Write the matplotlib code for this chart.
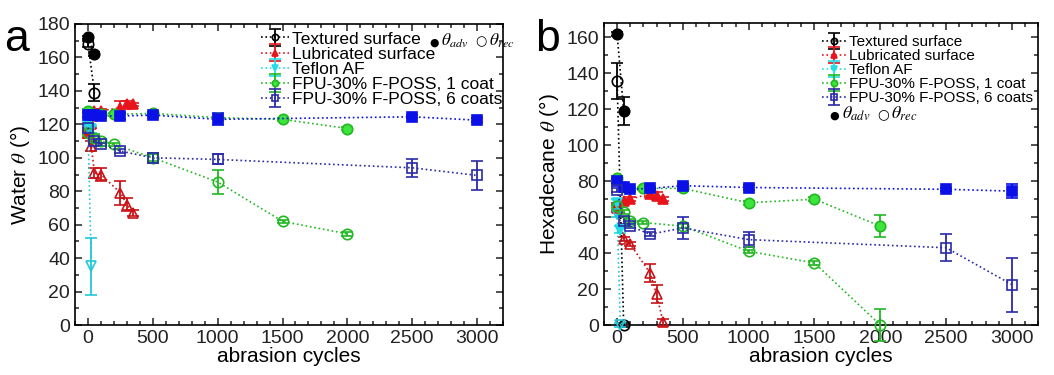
import matplotlib
matplotlib.use('Agg')
import matplotlib.pyplot as plt
from matplotlib.ticker import MultipleLocator
from matplotlib.offsetbox import TextArea, HPacker, AnchoredOffsetbox

plt.rcParams['font.family'] = ['Liberation Sans', 'DejaVu Sans']
plt.rcParams['mathtext.fontset'] = 'stix'

# ---- panel a: water ----
tex_a_x = [0, 50]
tex_a_adv = [172, 162]
tex_a_adv_err = [1, 1]
tex_a_rec = [168, 139]
tex_a_rec_err = [2, 5]

lub_a_x = [0, 25, 50, 100, 250, 300, 350]
lub_a_adv = [115, 120, 128, 128, 130, 132, 132]
lub_a_adv_err = [3, 2, 1, 1, 4, 2, 1]
lub_a_rec = [117, 107, 91, 90, 79, 72, 67]
lub_a_rec_err = [3, 3, 3, 4, 7, 4, 2]

tef_a_x = [0, 25]
tef_a_adv = [121, 117]
tef_a_adv_err = [1, 2]
tef_a_rec = [118, 35]
tef_a_rec_err = [2, 17]

g1_a_x_adv = [0, 50, 100, 200, 500, 1000, 1500, 2000]
g1_a_adv = [128, 126, 126, 126, 126.5, 124, 123, 117.5]
g1_a_adv_err = [1, 1, 1, 1, 1, 1, 1, 1]
g1_a_x_rec = [0, 50, 100, 200, 500, 1000, 1500, 2000]
g1_a_rec = [115, 112, 110, 108, 100, 85.5, 62, 54.5]
g1_a_rec_err = [2, 2, 1, 1, 2, 7, 1, 1]

b6_a_x_adv = [0, 25, 50, 100, 250, 500, 1000, 2500, 3000]
b6_a_adv = [125.5, 125.5, 125.5, 125, 125, 125.5, 123, 124.5, 122.5]
b6_a_adv_err = [1, 1, 1, 1, 2, 1, 3.5, 1, 1]
b6_a_x_rec = [0, 50, 100, 250, 500, 1000, 2500, 3000]
b6_a_rec = [118, 110, 108, 104, 100, 99, 94, 89.5]
b6_a_rec_err = [2, 1, 1, 1, 3, 3, 5.5, 8.5]

# ---- panel b: hexadecane ----
tex_b_x = [0, 50]
tex_b_adv = [162, 119]
tex_b_adv_err = [1, 8]
tex_b_rec = [136, 0]
tex_b_rec_err = [10, 1]

lub_b_x = [0, 50, 100, 250, 300, 350]
lub_b_adv = [65, 69, 70, 73, 72, 70]
lub_b_adv_err = [2, 1, 1, 2, 2, 1]
lub_b_rec = [66, 48, 45, 29, 17, 1.5]
lub_b_rec_err = [2, 1, 1, 5, 5, 2]

tef_b_x = [0, 25]
tef_b_adv = [68, 53]
tef_b_adv_err = [2, 2]
tef_b_rec = [62, 0]
tef_b_rec_err = [2, 1]

g1_b_x_adv = [0, 50, 200, 500, 1000, 1500, 2000]
g1_b_adv = [82, 77, 76, 76, 68, 70, 55]
g1_b_adv_err = [1, 1, 1, 1, 1, 1, 6]
g1_b_x_rec = [0, 50, 100, 200, 500, 1000, 1500, 2000]
g1_b_rec = [66, 63, 58, 57, 55, 41, 34.5, 0]
g1_b_rec_err = [1, 1, 1, 1, 1, 1, 1, 9]

b6_b_x = [0, 50, 100, 250, 500, 1000, 2500, 3000]
b6_b_adv = [80, 77, 75.5, 76, 77.5, 76.5, 75.5, 74.5]
b6_b_adv_err = [1, 1, 1, 1, 1, 1.5, 1, 4]
b6_b_rec = [75, 58, 55, 50.5, 54, 47.5, 43, 22.5]
b6_b_rec_err = [1, 2, 1, 1, 6, 4, 7.5, 15]

labels = ['Textured surface', 'Lubricated surface', 'Teflon AF',
          'FPU-30% F-POSS, 1 coat', 'FPU-30% F-POSS, 6 coats']

# colour, marker, filled edge, open edge
styles = [('black', 'o', 'black', 'black'),
          ('#e8141c', '^', '#e8141c', '#c81418'),
          ('#22dde6', 'v', '#22dde6', '#22c8d8'),
          ('#3ce43c', 'o', '#22b822', '#22b822'),
          ('#0a10e6', 's', '#0a10e6', '#2a2aa8')]


def draw(ax, x, y, err, st, filled):
    col, mk, ecf, eco = st
    ec = ecf if filled else eco
    h = ax.errorbar(x, y, yerr=err, fmt=mk, linestyle=':', color=ec,
                    lw=1.2, ms=7.5 if mk != 's' else 6.5,
                    mfc=col if filled else 'none', mec=ec, mew=1.2,
                    ecolor=ec, elinewidth=1.3, capsize=4, capthick=1.3,
                    clip_on=False, zorder=3)
    return h


def adv_rec_key(ax, x, y, fs):
    # "● θadv ○ θrec" key, built from pieces so the dots get their own size
    dot = dict(fontsize=fs * 0.62, family=['DejaVu Sans'])
    ring = dict(fontsize=fs * 0.75, family=['DejaVu Sans'])
    parts = [TextArea('●', textprops=dot),
             TextArea(r'$\theta_{adv}$', textprops=dict(fontsize=fs)),
             TextArea(' ', textprops=dict(fontsize=fs * 0.5)),
             TextArea('○', textprops=ring),
             TextArea(r'$\theta_{rec}$', textprops=dict(fontsize=fs))]
    box = HPacker(children=parts, align='baseline', pad=0, sep=1.5)
    anc = AnchoredOffsetbox(loc='center left', child=box, pad=0, frameon=False,
                            bbox_to_anchor=(x, y), bbox_transform=ax.transAxes,
                            borderpad=0)
    ax.add_artist(anc)


def style_axes(ax, ytop):
    ax.set_xlim(-100, 3200)
    ax.set_ylim(0, ytop)
    ax.xaxis.set_major_locator(MultipleLocator(500))
    ax.xaxis.set_minor_locator(MultipleLocator(100))
    ax.yaxis.set_major_locator(MultipleLocator(20))
    ax.yaxis.set_minor_locator(MultipleLocator(10))
    ax.tick_params(which='both', direction='in', top=True, right=True,
                   labelsize=14, width=1.1, colors='#222222')
    ax.tick_params(which='major', length=5)
    ax.tick_params(which='minor', length=3)
    for s in ax.spines.values():
        s.set_linewidth(1.2)
    ax.set_xlabel('abrasion cycles', fontsize=15, labelpad=0)


fig = plt.figure(figsize=(10.54, 3.75), dpi=100)
axa = fig.add_axes([0.0712, 0.1333, 0.406, 0.8027])
axb = fig.add_axes([0.573, 0.1333, 0.412, 0.8053])

# panel a
ha = []
ha.append(draw(axa, tex_a_x, tex_a_rec, tex_a_rec_err, styles[0], False))
draw(axa, tex_a_x, tex_a_adv, tex_a_adv_err, styles[0], True)
ha.append(draw(axa, lub_a_x, lub_a_adv, lub_a_adv_err, styles[1], True))
draw(axa, lub_a_x, lub_a_rec, lub_a_rec_err, styles[1], False)
ha.append(draw(axa, tef_a_x, tef_a_adv, tef_a_adv_err, styles[2], True))
draw(axa, tef_a_x, tef_a_rec, tef_a_rec_err, styles[2], False)
ha.append(draw(axa, g1_a_x_adv, g1_a_adv, g1_a_adv_err, styles[3], True))
draw(axa, g1_a_x_rec, g1_a_rec, g1_a_rec_err, styles[3], False)
draw(axa, b6_a_x_adv, b6_a_adv, b6_a_adv_err, styles[4], True)
ha.append(draw(axa, b6_a_x_rec, b6_a_rec, b6_a_rec_err, styles[4], False))
style_axes(axa, 180)
axa.set_ylabel(r'Water $\theta$ (°)', fontsize=15, labelpad=4)
axa.legend(ha, labels, loc='upper left', bbox_to_anchor=(0.41, 1.01),
           frameon=False, fontsize=12.5, handlelength=1.6, handletextpad=0.2,
           labelspacing=0.0, borderaxespad=0.2, markerscale=0.6)
adv_rec_key(axa, 0.828, 0.945, 12.5)

# panel b
hb = []
hb.append(draw(axb, tex_b_x, tex_b_rec, tex_b_rec_err, styles[0], False))
draw(axb, tex_b_x, tex_b_adv, tex_b_adv_err, styles[0], True)
hb.append(draw(axb, lub_b_x, lub_b_adv, lub_b_adv_err, styles[1], True))
draw(axb, lub_b_x, lub_b_rec, lub_b_rec_err, styles[1], False)
hb.append(draw(axb, tef_b_x, tef_b_adv, tef_b_adv_err, styles[2], True))
draw(axb, tef_b_x, tef_b_rec, tef_b_rec_err, styles[2], False)
hb.append(draw(axb, g1_b_x_adv, g1_b_adv, g1_b_adv_err, styles[3], True))
draw(axb, g1_b_x_rec, g1_b_rec, g1_b_rec_err, styles[3], False)
draw(axb, b6_b_x, b6_b_adv, b6_b_adv_err, styles[4], True)
hb.append(draw(axb, b6_b_x, b6_b_rec, b6_b_rec_err, styles[4], False))
style_axes(axb, 168)
axb.set_ylabel(r'Hexadecane $\theta$ (°)', fontsize=15, labelpad=4)
axb.legend(hb, labels, loc='upper left', bbox_to_anchor=(0.48, 0.99),
           frameon=False, fontsize=11, handlelength=1.6, handletextpad=0.2,
           labelspacing=0.0, borderaxespad=0.2, markerscale=0.6)
adv_rec_key(axb, 0.52, 0.70, 13)

fig.text(0.004, 0.865, 'a', fontsize=32)
fig.text(0.508, 0.865, 'b', fontsize=32)

fig.savefig('out.png', dpi=100)
